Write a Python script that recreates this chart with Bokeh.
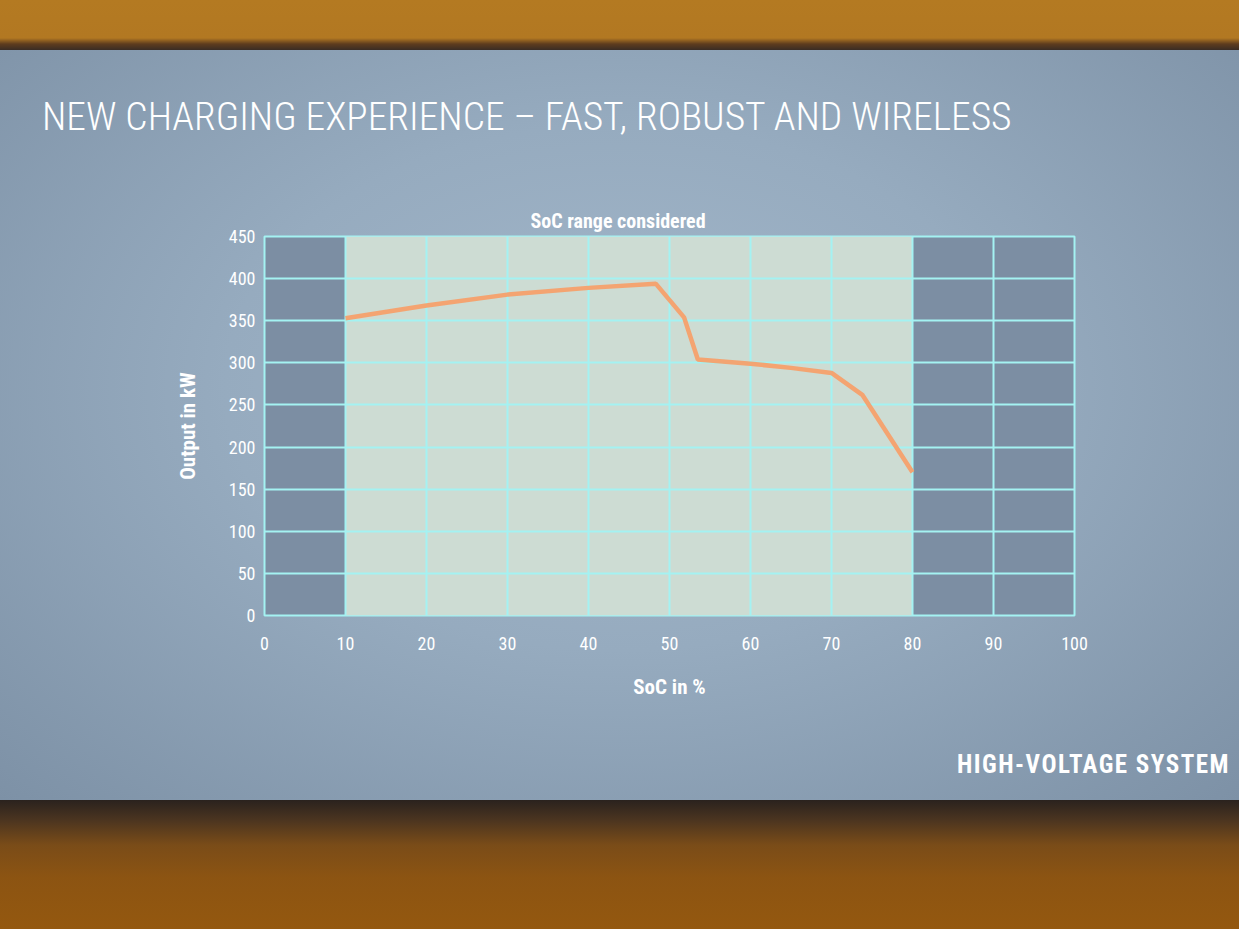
from bokeh.plotting import figure
from bokeh.models import Div, FixedTicker, Title
from bokeh.layouts import column
from bokeh.embed import file_html
from bokeh.resources import INLINE

# ---- data ----
soc = [10, 20, 30, 40, 48.3, 51.8, 53.5, 60, 65, 70, 73.8, 80]
output_kw = [353, 368, 381, 389, 394, 354, 304, 299, 294, 288, 262, 170]
soc_range = [10, 80]
x_ticks = [0, 10, 20, 30, 40, 50, 60, 70, 80, 90, 100]
y_ticks = [0, 50, 100, 150, 200, 250, 300, 350, 400, 450]
slide_title = "NEW CHARGING EXPERIENCE – FAST, ROBUST AND WIRELESS"
footer_text = "HIGH-VOLTAGE SYSTEM"
range_label = "SoC range considered"

FONT = "'Roboto Condensed', 'DejaVu Sans Condensed', Roboto, sans-serif"
GRID = "#a4f2f2"
W = 1239

p = figure(width=W, height=575, output_backend="svg", toolbar_location=None,
           x_range=(0, 100), y_range=(0, 450),
           min_border_left=264, min_border_right=W - 264 - 810,
           min_border_top=66, min_border_bottom=130, margin=0)
p.border_fill_alpha = 0
p.background_fill_color = "#7c8ea3"
p.outline_line_color = GRID
p.outline_line_width = 2

# considered SoC range
r = p.quad(left=[soc_range[0]], right=[soc_range[1]], bottom=[y_ticks[0]], top=[y_ticks[-1]],
           fill_color="#cddcd3", line_color=None)
r.level = "image"

p.line(soc, output_kw, line_color="#f6a06c", line_width=4.5, line_alpha=0.95)

for ax in (p.xaxis[0], p.yaxis[0]):
    ax.axis_line_color = None
    ax.major_tick_line_color = None
    ax.minor_tick_line_color = None
    ax.major_label_text_color = "white"
    ax.major_label_text_font = FONT
    ax.major_label_text_font_size = "18px"
    ax.axis_label_text_color = "white"
    ax.axis_label_text_font = FONT
    ax.axis_label_text_font_style = "bold"
    ax.axis_label_text_font_size = "21px"

p.xaxis.ticker = FixedTicker(ticks=x_ticks)
p.yaxis.ticker = FixedTicker(ticks=y_ticks)
p.xaxis.major_label_standoff = 15
p.yaxis.major_label_standoff = 3
p.xaxis.axis_label = "SoC in %"
p.yaxis.axis_label = "Output in kW"
p.xaxis.axis_label_standoff = 22
p.yaxis.axis_label_standoff = 26

for g in (p.xgrid[0], p.ygrid[0]):
    g.grid_line_color = GRID
    g.grid_line_width = 2
    g.grid_line_alpha = 1.0

# label over the considered range (title panel above the frame)
p.add_layout(Title(text=range_label, align="left", offset=266, standoff=7,
                   text_color="white", text_font=FONT, text_font_style="bold",
                   text_font_size="20px"), "above")

title_div = Div(text=slide_title, width=W, height=120, margin=0, styles={
    "color": "white", "font-family": "'Roboto Condensed', Roboto, sans-serif",
    "font-weight": "300", "font-size": "39.5px", "line-height": "40px",
    "padding-left": "42px", "padding-top": "47px", "box-sizing": "border-box",
    "white-space": "nowrap"})

footer_div = Div(text=footer_text, width=W, height=55, margin=0, styles={
    "color": "white", "font-family": "'Roboto Condensed', Roboto, sans-serif",
    "font-weight": "700", "font-size": "25px", "line-height": "26px",
    "letter-spacing": "1.5px",
    "padding-left": "957px", "padding-top": "7px", "box-sizing": "border-box",
    "white-space": "nowrap"})

screen = column(title_div, p, footer_div, spacing=0, margin=0, styles={
    "background": "radial-gradient(ellipse at 50% 45%, #a3b7ca 0%, #96abbf 45%, #7d91a6 100%)"})

top = Div(width=W, height=50, margin=0, styles={
    "background": "linear-gradient(#b47a22 0%, #b27822 76%, #5e3c1e 88%, #3a2c24 100%)"})
bottom = Div(width=W, height=129, margin=0, styles={
    "background": "linear-gradient(#2a221e 0%, #4a3420 15%, #7a4c18 35%, #8c5412 60%, #94580f 100%)"})

layout = column(top, screen, bottom, spacing=0, margin=0)
open("out.html", "w").write(file_html(layout, INLINE))
